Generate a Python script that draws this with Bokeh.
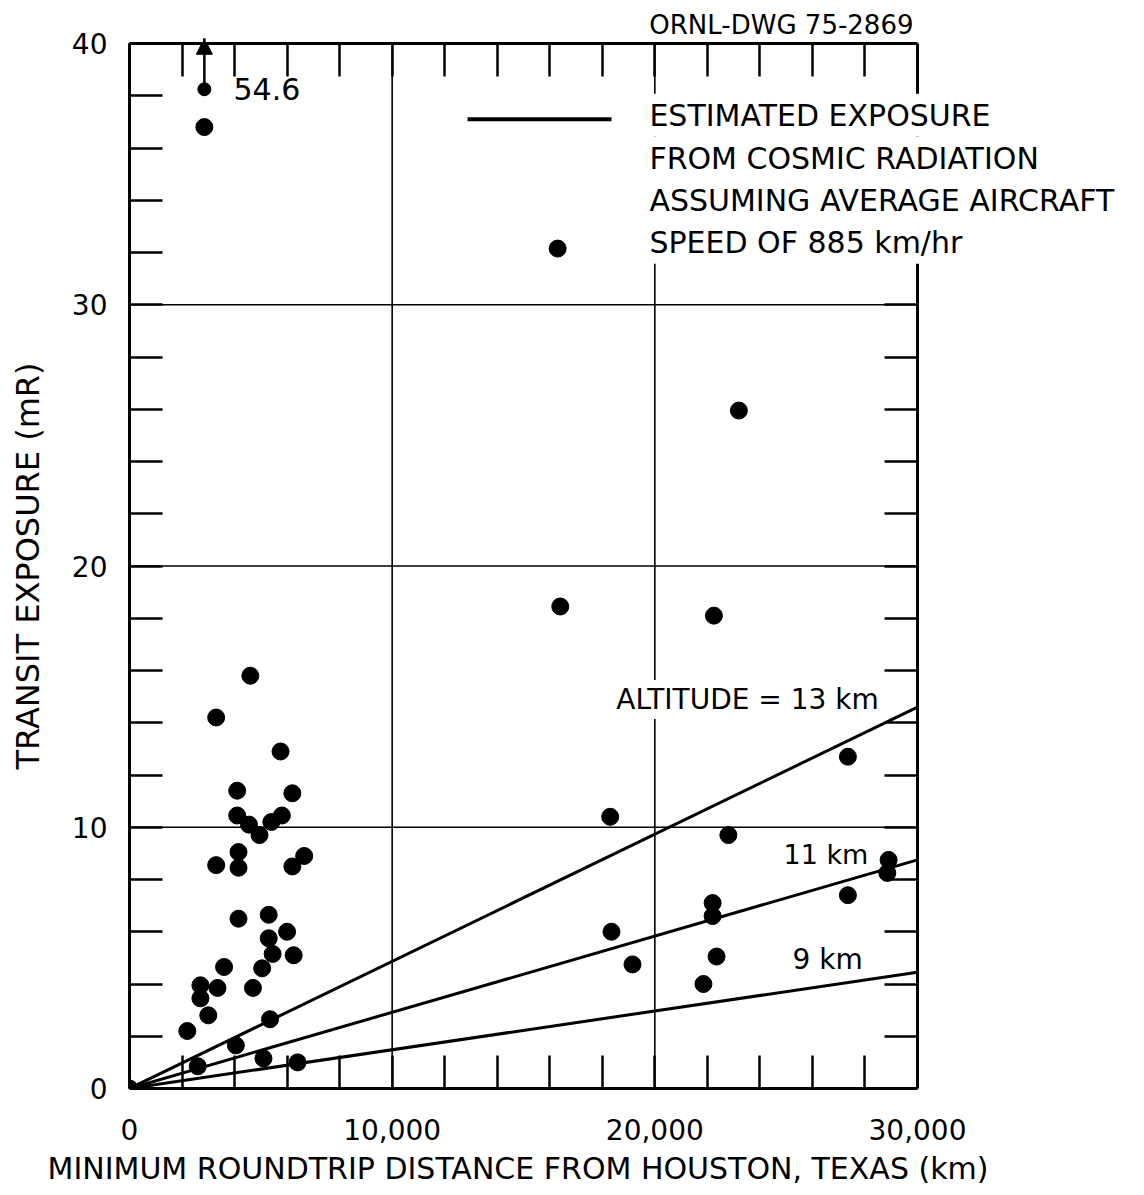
import math
from bokeh.plotting import figure
from bokeh.models import (Range1d, FixedTicker, LinearAxis, NumeralTickFormatter,
                          Label, Arrow, NormalHead, Title)
from bokeh.embed import file_html
from bokeh.resources import INLINE

# ---------------- data ----------------
# short trips (km, mR)
near_x = [4600, 3300, 5750, 4100, 6200, 4100, 4550, 5800, 5400, 4950,
          4150, 3300, 4150, 6200, 6650, 4150, 5300, 6000, 5300, 5450,
          6250, 3600, 5050, 2700, 3350, 2700, 4700, 3000, 2200, 5350,
          4050, 2600, 5100, 6400, 0, 2850]
near_y = [15.8, 14.2, 12.9, 11.4, 11.3, 10.45, 10.1, 10.45, 10.2, 9.7,
          9.05, 8.55, 8.45, 8.5, 8.9, 6.5, 6.65, 6.0, 5.75, 5.15,
          5.1, 4.65, 4.6, 3.95, 3.85, 3.45, 3.85, 2.8, 2.2, 2.65,
          1.65, 0.85, 1.15, 1.0, 0.0, 36.8]
# long trips (km, mR)
far_x = [16300, 16400, 22250, 23200, 18300, 22800, 27350, 28900, 28850,
         27350, 22200, 22200, 18350, 22350, 19150, 21850]
far_y = [32.15, 18.45, 18.1, 25.95, 10.4, 9.7, 12.7, 8.75, 8.25,
         7.4, 7.1, 6.6, 6.0, 5.05, 4.75, 4.0]
# off-scale value, plotted at the top with an arrow
offscale_x = [2850]
offscale_value = [54.6]
offscale_plot_y = [38.25]

# estimated cosmic-radiation exposure lines
line_x = [0, 30000]
alt13_y = [0, 14.6]
alt11_y = [0, 8.75]
alt9_y = [0, 4.45]

X_MAX = 30000
Y_MAX = 40
x_ticks = [0, 10000, 20000, 30000]
x_minor = list(range(0, 30001, 2000))
y_ticks = [0, 10, 20, 30, 40]
y_minor = list(range(0, 41, 2))
x_grid = [10000, 20000]
y_grid = [10, 20, 30]

FONT = "DejaVu Sans"

# ---------------- figure ----------------
# frame extends to the right of the 30,000 km border so the legend text,
# which runs past the border in the original, is not clipped
FRAME_W = 1000
p = figure(frame_width=FRAME_W, frame_height=1045,
           x_range=Range1d(0, X_MAX * FRAME_W / 788.0), y_range=Range1d(0, Y_MAX),
           output_backend="svg", toolbar_location=None,
           min_border_left=129, min_border_right=0,
           min_border_top=43, min_border_bottom=100)
p.background_fill_color = "white"
p.border_fill_color = "white"
p.outline_line_color = None
p.grid.visible = False


def style_axis(ax):
    ax.axis_line_color = "black"
    ax.axis_line_width = 3
    ax.major_tick_in = 0
    ax.major_tick_out = 0
    ax.minor_tick_in = 33
    ax.minor_tick_out = 0
    ax.minor_tick_line_color = "black"
    ax.minor_tick_line_width = 2.5
    ax.major_label_text_font = FONT
    ax.major_label_text_font_size = "28px"
    ax.major_label_text_color = "black"


xa = p.xaxis[0]
xa.ticker = FixedTicker(ticks=x_ticks, minor_ticks=x_minor)
xa.formatter = NumeralTickFormatter(format="0,0")
xa.bounds = (0, X_MAX)
style_axis(xa)
xa.major_label_standoff = 30

ya = p.yaxis[0]
ya.ticker = FixedTicker(ticks=y_ticks, minor_ticks=y_minor)
ya.bounds = (0, Y_MAX)
style_axis(ya)
ya.major_label_standoff = 22
ya.axis_label = "TRANSIT EXPOSURE (mR)"
ya.axis_label_text_font = FONT
ya.axis_label_text_font_size = "32px"
ya.axis_label_text_font_style = "normal"
ya.axis_label_text_color = "black"
ya.axis_label_standoff = 22

top = LinearAxis(ticker=FixedTicker(ticks=[], minor_ticks=x_minor), bounds=(0, X_MAX))
style_axis(top)
top.major_label_standoff = 0
top.axis_label_standoff = 0
p.add_layout(top, "above")

right = LinearAxis(ticker=FixedTicker(ticks=[], minor_ticks=y_minor),
                   bounds=(0, Y_MAX), fixed_location=X_MAX)
style_axis(right)
right.major_label_standoff = 0
right.axis_label_standoff = 0
p.add_layout(right, "right")

# grid lines (limited to the 0-30,000 km box)
p.segment(x0=x_grid, y0=[0] * len(x_grid), x1=x_grid, y1=[Y_MAX] * len(x_grid),
          line_color="black", line_width=1.6)
p.segment(x0=[0] * len(y_grid), y0=y_grid, x1=[X_MAX] * len(y_grid), y1=y_grid,
          line_color="black", line_width=1.6)

# ---------------- marks ----------------
for ys in (alt13_y, alt11_y, alt9_y):
    p.line(line_x, ys, line_color="black", line_width=3)

p.scatter(near_x, near_y, size=17, color="black")
p.scatter(far_x, far_y, size=17, color="black")
p.scatter(offscale_x, offscale_plot_y, size=13, color="black")

p.add_layout(Arrow(end=NormalHead(size=16, fill_color="black", line_color="black"),
                   x_start=offscale_x[0], y_start=offscale_plot_y[0],
                   x_end=offscale_x[0], y_end=40.2,
                   line_color="black", line_width=2.5))
p.add_layout(Label(x=3960, y=offscale_plot_y[0], text=f"{offscale_value[0]}",
                   text_font=FONT, text_font_size="30px", text_color="black",
                   text_align="left", text_baseline="middle"))

# line labels
p.add_layout(Label(x=18420, y=14.89, text="ALTITUDE = 13 km", text_font=FONT,
                   text_font_size="28px", text_color="black", text_align="left",
                   text_baseline="middle", background_fill_color="white", padding=3))
p.add_layout(Label(x=24900, y=8.96, text="11 km", text_font=FONT, text_color="black",
                   text_font_size="27px", text_align="left", text_baseline="middle"))
p.add_layout(Label(x=25240, y=4.94, text="9 km", text_font=FONT, text_color="black",
                   text_font_size="28px", text_align="left", text_baseline="middle"))

# legend
p.line([12870, 18350], [37.1, 37.1], line_color="black", line_width=4)
legend_lines = ["ESTIMATED EXPOSURE", "FROM COSMIC RADIATION",
                "ASSUMING AVERAGE AIRCRAFT", "SPEED OF 885 km/hr"]
for txt, yy in zip(legend_lines, [37.25, 35.6, 34.0, 32.39]):
    p.add_layout(Label(x=19640, y=yy, text=txt, text_font=FONT, text_color="black",
                       text_font_size="30px", text_align="left",
                       text_baseline="middle", background_fill_color="white",
                       padding=4))

# drawing number (above the box, right-aligned at its right edge)
p.add_layout(Title(text="ORNL-DWG 75-2869", align="right", offset=FRAME_W - 784,
                   text_font=FONT, text_font_size="26px", text_font_style="normal",
                   text_color="black", standoff=4, vertical_align="top"), "above")

# x axis title
p.add_layout(Title(text="MINIMUM ROUNDTRIP DISTANCE FROM HOUSTON, TEXAS (km)",
                   align="left", offset=-82, text_font=FONT, text_font_size="30px",
                   text_font_style="normal", text_color="black", standoff=12), "below")

open("out.html", "w").write(file_html(p, INLINE))
